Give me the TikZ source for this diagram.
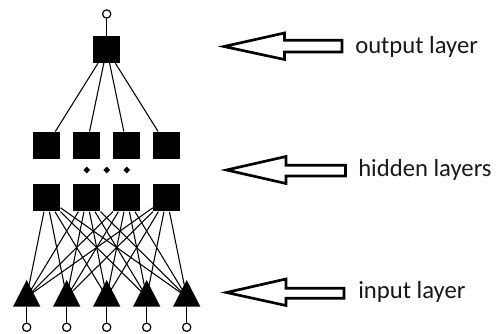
\documentclass[tikz,border=0pt]{standalone}
\usepackage{fontspec}
\setmainfont{Carlito}
\begin{document}
\begin{tikzpicture}[x=0.75pt,y=-0.75pt,
  sq/.style={rectangle,fill=black,minimum size=20.25pt,inner sep=0pt},
  pin/.style={circle,draw=black,fill=white,line width=0.9pt,minimum size=6.2pt,inner sep=0pt},
  link/.style={draw=black,line width=0.8pt},
  tri/.style={fill=black},
  dot/.style={fill=black},
  blockarrow/.style={draw=black,line width=2pt,fill=white,line join=miter},
  lbl/.style={anchor=base west,inner sep=0pt,text=black!90,font=\fontsize{18.5}{22}\selectfont}]
\useasboundingbox[fill=white] (0,0) rectangle (496,334);

% output layer
\node[sq] (o) at (106.7,49.3) {};
\node[pin] (co) at (106.7,14) {};
\draw[link] (co) -- (o);

% hidden layers
\foreach \i/\x in {1/46.7,2/86.7,3/126.7,4/166.7}{
  \node[sq] (h\i) at (\x,145.3) {};
  \node[sq] (g\i) at (\x,198) {};
}
\foreach \x in {86.7,106.7,126.7}
  \fill[dot] (\x,166.6) -- (\x+3.4,170) -- (\x,173.4) -- (\x-3.4,170) -- cycle;

% input layer anchor points
\foreach \k/\x in {1/26.7,2/66.7,3/106.7,4/146.7,5/186.7}{
  \coordinate (t\k) at (\x,297);
  \coordinate (b\k) at (\x,306.7);
  \node[pin] (p\k) at (\x,327.3) {};
}

% connectors
\foreach \i in {1,...,4}
  \draw[link] (o) -- (h\i);
\foreach \i in {1,...,4}
  \foreach \j in {1,...,5}
    \draw[link] (g\i) -- (t\j);
\foreach \k in {1,...,5}
  \draw[link] (b\k) -- (p\k);

% triangles (input units)
\foreach \x in {26.7,66.7,106.7,146.7,186.7}
  \fill[tri] (\x-13.7,306.7) -- (\x,280) -- (\x+13.7,306.7) -- cycle;

% block arrows
\draw[blockarrow] (224,46.5) -- (284.5,33) -- (284.5,40.3) -- (342,40.3) -- (342,52) -- (284.5,52) -- (284.5,59.5) -- cycle;
\draw[blockarrow] (226.5,170) -- (286,156.5) -- (286,165.3) -- (345.5,165.3) -- (345.5,176) -- (286,176) -- (286,183.5) -- cycle;
\draw[blockarrow] (226.5,292.5) -- (286,279) -- (286,288.3) -- (344,288.3) -- (344,298.2) -- (286,298.2) -- (286,305.5) -- cycle;

% labels
\node[lbl] (lo) at (355,53.3) {output layer};
\node[lbl] (lh) at (358,176.7) {hidden layers};
\node[lbl] (li) at (358,298.5) {input layer};
\end{tikzpicture}
\end{document}
